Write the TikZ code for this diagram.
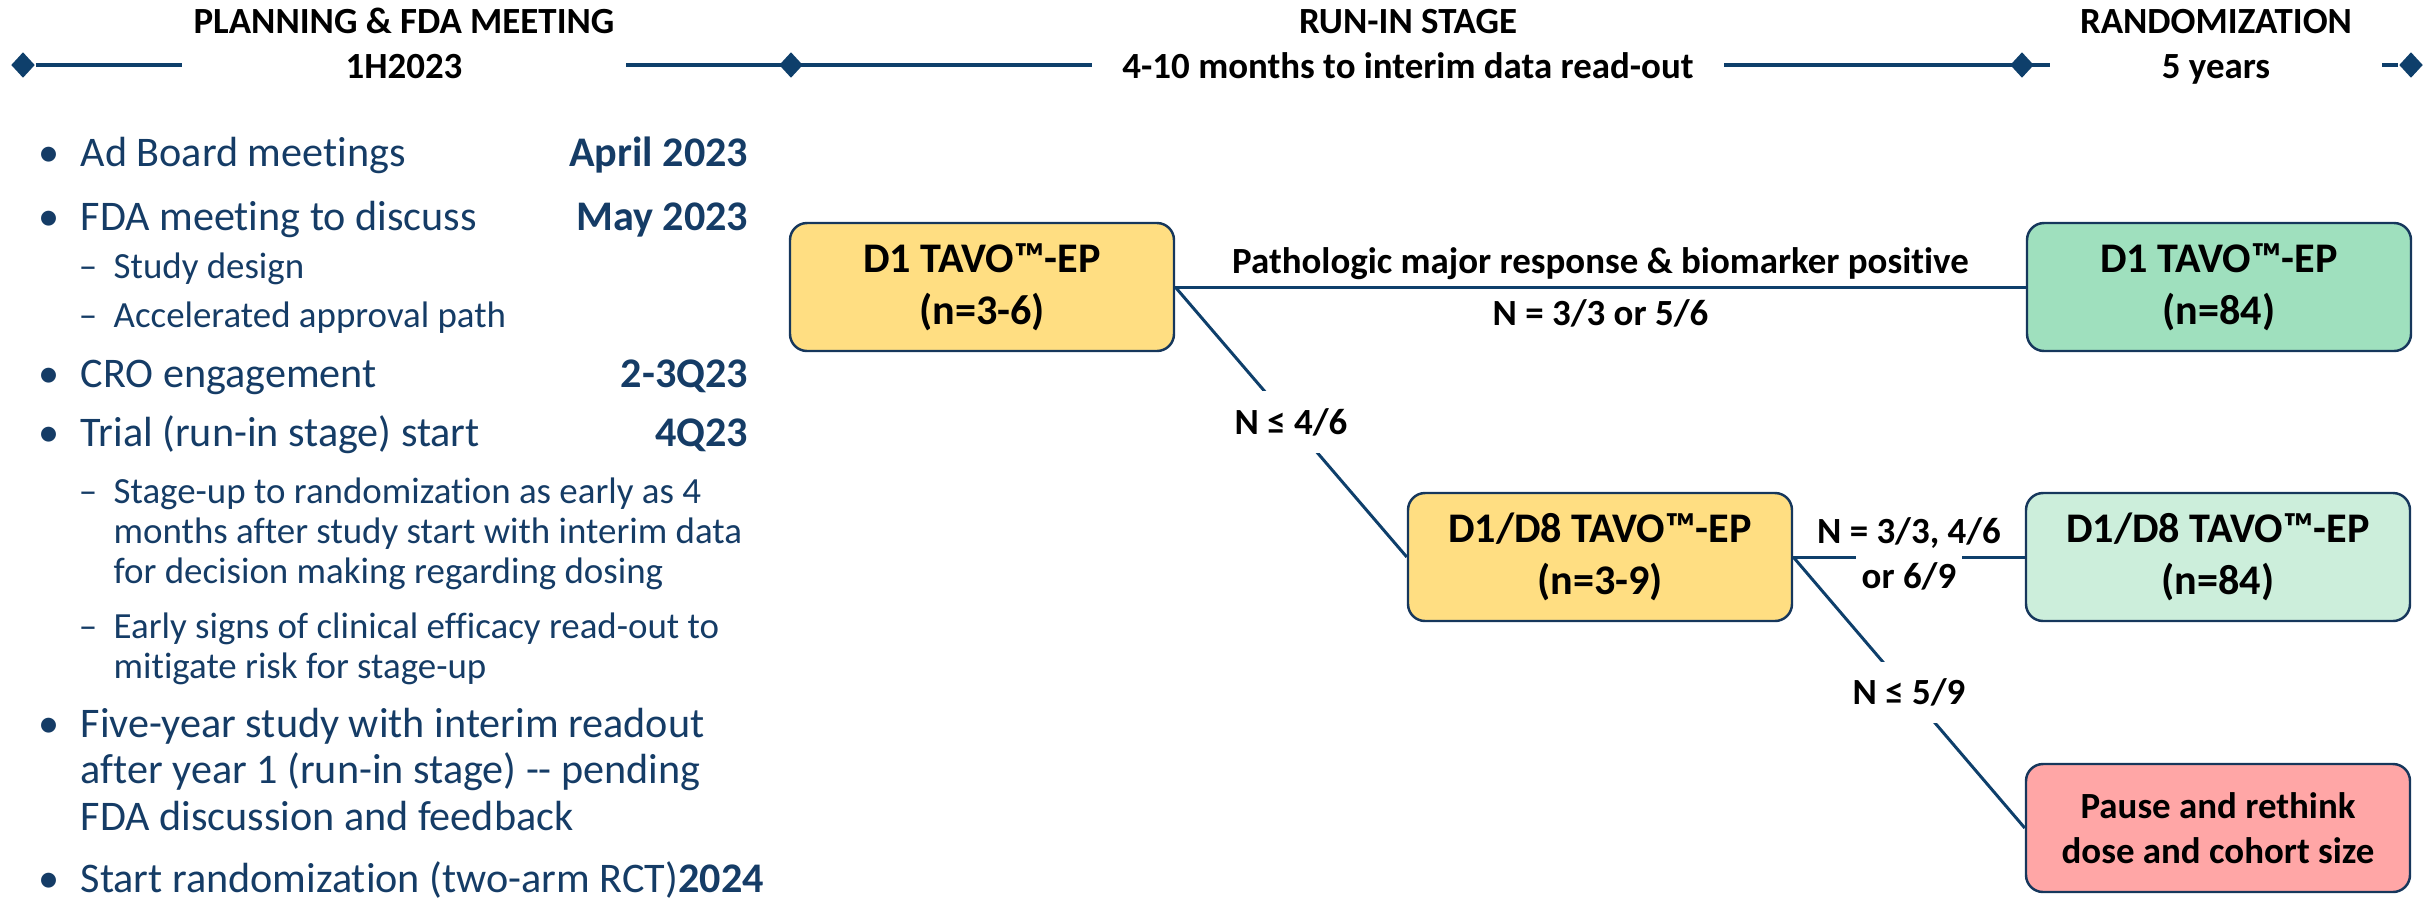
\documentclass[tikz,border=0pt]{standalone}
\usepackage{fontspec}
\setmainfont{Carlito}[Ligatures={TeX,NoCommon}]
\usepackage{xcolor}
\usetikzlibrary{shapes.geometric}
\usetikzlibrary{positioning}

\definecolor{navy}{HTML}{0E3F6B}
\definecolor{edge}{HTML}{16375C}
\definecolor{ink}{HTML}{153C66}
\definecolor{gold}{HTML}{FFDE82}
\definecolor{mint}{HTML}{9FE0BE}
\definecolor{pale}{HTML}{CCEEDB}
\definecolor{rose}{HTML}{FFA6A6}

\begin{document}
\begin{tikzpicture}[x=0.1mm,y=-0.1mm,
    rhomb/.style={diamond,fill=navy,inner sep=0pt,minimum width=2.4mm,minimum height=2.6mm},
    stage/.style={fill=white,inner xsep=3mm,inner ysep=0pt,anchor=base,align=center,font=\fontsize{10.5}{12.8}\selectfont\bfseries},
    arm/.style={draw=edge,line width=.7pt,rounded corners=1.7mm,minimum width=38.4mm,minimum height=12.8mm,align=center,font=\fontsize{12}{14.8}\selectfont\bfseries},
    link/.style={navy,line width=.85pt},
    cond/.style={anchor=base,inner sep=0pt,text=black,align=center,font=\fontsize{10.5}{12.8}\selectfont\bfseries},
    cut/.style={fill=white,text=black,inner xsep=.5mm,inner ysep=1.7mm,font=\fontsize{10.5}{12.8}\selectfont\bfseries},
    item/.style={anchor=base west,inner sep=0pt,text=ink,font=\fontsize{12}{14}\selectfont},
    sub/.style={anchor=base west,inner sep=0pt,text=ink,font=\fontsize{10.5}{12}\selectfont},
    date/.style={anchor=base east,inner sep=0pt,text=ink,font=\fontsize{12}{14}\selectfont\bfseries},
    bul/.style={anchor=base,inner sep=0pt,text=ink,font=\fontsize{12}{14}\selectfont}]
  \useasboundingbox (0,0) rectangle (2433,899);

  \node (p0) [rhomb] at (23,65) {};
  \node (p1) [rhomb] at (791,65) {};
  \node (p2) [rhomb] at (2022,65) {};
  \node (p3) [rhomb] at (2411,65) {};
  \draw[navy,line width=1.15pt] (p0) -- (p3);
  \node (plan) [stage,inner xsep=1.2mm] at (404,78) {PLANNING \& FDA MEETING\\1H2023};
  \node (runin) [stage] at (1408,78) {RUN-IN STAGE\\4-10 months to interim data read-out};
  \node (rand) [stage] at (2216,78) {RANDOMIZATION\\5 years};

  \path (80,166)
    node (adb) [item] {Ad Board meetings} ++(0,64)
    node (fda) [item] {FDA meeting to discuss} ++(33,48)
    node (sdy) [sub] {Study design} ++(0,49)
    node (acc) [sub] {Accelerated approval path} ++(-33,60)
    node (cro) [item] {CRO engagement} ++(0,59)
    node (tri) [item] {Trial (run-in stage) start} ++(33,57)
    node (stu) [sub] {Stage-up to randomization as early as 4} ++(0,40)
    node (stm) [sub] {months after study start with interim data} ++(0,40)
    node (std) [sub] {for decision making regarding dosing} ++(0,55)
    node (eas) [sub] {Early signs of clinical efficacy read-out to} ++(0,40)
    node (eam) [sub] {mitigate risk for stage-up} ++(-33,59)
    node (fiv) [item] {Five-year study with interim readout} ++(0,46)
    node (fia) [item] {after year 1 (run-in stage) -{}- pending} ++(0,47)
    node (fif) [item] {FDA discussion and feedback} ++(0,62)
    node (sra) [item] {Start randomization (two-arm RCT)\textbf{2024}};
  \foreach \n in {adb,fda,cro,tri,fiv,sra}
    \path (\n.base west) ++(-31,0) node (b-\n) [bul] {•};
  \foreach \n in {sdy,acc,stu,eas}
    \path (\n.base west) ++(-25,0) node (b-\n) [bul,font=\fontsize{10.5}{12}\selectfont] {–};
  \path (749,166) node (apr) [date] {April 2023}
    (749,230) node (may) [date] {May 2023}
    (749,387) node (q23) [date] {2-3Q23}
    (749,446) node (q4) [date] {4Q23};

  \node (d1) [arm,fill=gold] at (982,287) {D1 TAVO™-EP\\(n=3-6)};
  \node (r1) [arm,fill=mint] at (2219,287) {D1 TAVO™-EP\\(n=84)};
  \node (d8) [arm,fill=gold] at (1600,557) {D1/D8 TAVO™-EP\\(n=3-9)};
  \node (r8) [arm,fill=pale] at (2218,557) {D1/D8 TAVO™-EP\\(n=84)};
  \node (ps) [arm,fill=rose,font=\fontsize{10.5}{12.8}\selectfont\bfseries] at (2218,828) {Pause and rethink\\dose and cohort size};

  \draw[link] (d1) -- (r1)
    node (pmr) [midway,cond,yshift=1.4mm] {Pathologic major response \& biomarker positive}
    node (n36) [midway,cond,yshift=-3.8mm] {N = 3/3 or 5/6};
  \draw[link] (node cs:name=d1,anchor=east) -- (node cs:name=d8,anchor=west)
    node (n46) [midway,cut] {N ≤ 4/6};
  \path (node cs:name=d8,anchor=east) -- (node cs:name=r8,anchor=west)
    coordinate [pos=.27] (ga) coordinate [pos=.73] (gb)
    node (n69) [midway,cond,yshift=-3.1mm] {N = 3/3, 4/6\\or 6/9};
  \draw[link] (node cs:name=d8,anchor=east) -- (ga) (gb) -- (node cs:name=r8,anchor=west);
  \draw[link] (node cs:name=d8,anchor=east) -- (node cs:name=ps,anchor=west)
    node (n59) [midway,cut] {N ≤ 5/9};
\end{tikzpicture}
\end{document}
